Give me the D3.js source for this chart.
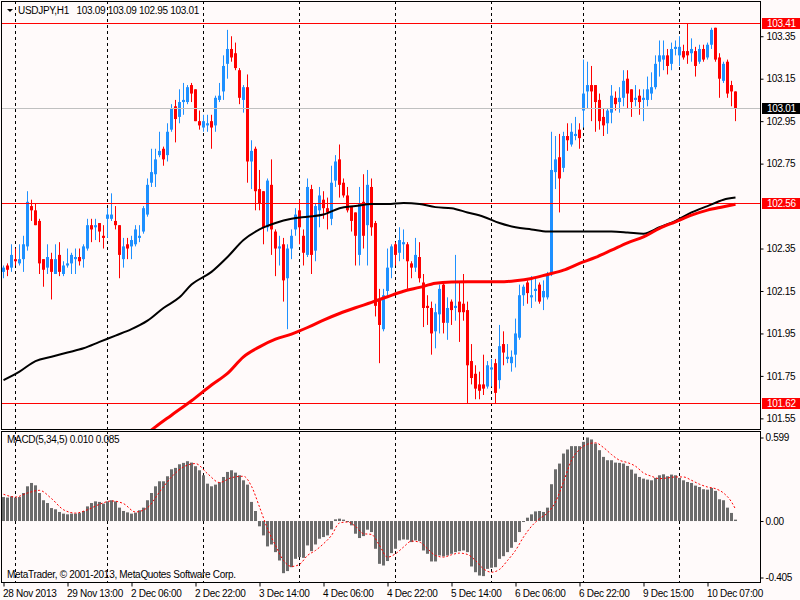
<!DOCTYPE html>
<html><head><meta charset="utf-8">
<script src="https://cdn.jsdelivr.net/npm/d3@7"></script>
<style>
html,body{margin:0;padding:0;background:#FFFAFA;}
svg{display:block;}
text{font-family:"Liberation Sans",Arial,sans-serif;font-size:10px;letter-spacing:-0.3px;fill:#000;}
</style></head>
<body>
<svg id="c" width="800" height="600"></svg>
<script>
// ---------- DATA ----------
const symbolTitle = "USDJPY,H1\u00A0\u00A0\u00A0103.09 103.09 102.95 103.01";
const macdTitle = "MACD(5,34,5) 0.010 0.085";
const copyright = "MetaTrader, \u00A9 2001-2013, MetaQuotes Software Corp.";

const open = [102.24,102.27,102.26,102.30,102.28,102.30,102.36,102.55,102.53,102.48,102.30,102.26,102.30,102.23,102.32,102.23,102.27,102.28,102.30,102.31,
102.30,102.35,102.46,102.45,102.47,102.41,102.49,102.49,102.48,102.46,102.30,102.37,102.36,102.37,102.40,102.43,102.51,102.66,102.70,102.79,
102.82,102.79,102.91,103.02,102.97,103.04,103.04,103.12,103.10,102.95,102.92,102.93,102.95,102.93,103.05,103.09,103.22,103.29,103.27,103.19,
103.05,103.11,102.76,102.82,102.63,102.62,102.45,102.65,102.43,102.35,102.37,102.21,102.35,102.44,102.53,102.41,102.32,102.63,102.34,102.53,
102.58,102.54,102.49,102.67,102.77,102.66,102.60,102.55,102.52,102.32,102.57,102.46,102.64,102.47,102.11,101.97,102.15,102.26,102.37,102.33,
102.37,102.37,102.28,102.26,102.31,102.19,102.08,102.07,101.96,102.04,102.18,102.00,102.10,102.07,102.10,102.09,102.06,101.82,101.76,101.71,
101.71,101.70,101.78,101.81,101.73,101.90,101.83,101.81,101.85,101.93,102.13,102.19,102.12,102.15,102.18,102.12,102.12,102.23,102.71,102.78,
102.73,102.88,102.84,102.88,102.91,103.00,103.09,103.12,103.12,103.05,102.97,102.94,102.99,103.06,103.04,103.06,103.15,103.10,103.05,103.07,
103.05,103.05,103.08,103.11,103.23,103.24,103.26,103.22,103.29,103.26,103.28,103.28,103.27,103.28,103.23,103.29,103.25,103.31,103.39,103.25,
103.14,103.23,103.12,103.09];
const high = [102.27,102.28,102.37,102.35,102.37,102.41,102.62,102.58,102.56,102.49,102.30,102.37,102.33,102.37,102.38,102.29,102.35,102.33,102.35,102.35,
102.37,102.49,102.49,102.49,102.47,102.46,102.54,102.61,102.55,102.46,102.40,102.40,102.41,102.46,102.46,102.55,102.68,102.82,102.82,102.90,
102.83,102.94,103.03,103.05,103.10,103.13,103.12,103.13,103.10,103.00,102.98,102.98,102.98,103.07,103.13,103.26,103.38,103.35,103.32,103.20,
103.12,103.17,102.86,102.83,102.72,102.62,102.68,102.77,102.44,102.41,102.40,102.37,102.44,102.54,102.58,102.44,102.68,102.65,102.56,102.64,
102.62,102.59,102.74,102.79,102.84,102.68,102.64,102.55,102.52,102.64,102.70,102.72,102.68,102.48,102.16,102.16,102.35,102.37,102.38,102.45,
102.44,102.38,102.29,102.40,102.38,102.23,102.13,102.10,102.09,102.18,102.19,102.12,102.11,102.32,102.19,102.23,102.10,101.90,101.80,101.77,
101.85,101.82,101.83,101.83,101.99,101.96,101.90,101.87,102.02,102.18,102.18,102.20,102.22,102.21,102.19,102.20,102.24,102.90,102.88,102.89,
102.90,102.94,102.94,102.97,102.94,103.24,103.23,103.21,103.12,103.08,103.01,103.01,103.12,103.09,103.11,103.19,103.19,103.10,103.12,103.10,
103.10,103.16,103.18,103.26,103.33,103.33,103.29,103.32,103.33,103.35,103.31,103.41,103.34,103.30,103.31,103.31,103.32,103.39,103.39,103.27,
103.23,103.24,103.14,103.09];
const low = [102.21,102.22,102.24,102.27,102.27,102.24,102.34,102.48,102.46,102.23,102.17,102.23,102.11,102.23,102.22,102.22,102.26,102.23,102.23,102.27,
102.26,102.34,102.38,102.39,102.38,102.35,102.40,102.48,102.44,102.21,102.26,102.30,102.30,102.36,102.38,102.42,102.50,102.64,102.64,102.78,
102.74,102.76,102.90,102.85,102.94,102.98,103.03,103.04,102.95,102.91,102.90,102.90,102.82,102.90,103.04,103.05,103.15,103.23,103.19,103.03,
102.99,102.66,102.63,102.53,102.53,102.37,102.43,102.32,102.22,102.27,102.10,101.97,102.30,102.41,102.37,102.27,102.31,102.23,102.29,102.45,
102.49,102.44,102.46,102.64,102.59,102.59,102.52,102.43,102.27,102.27,102.35,102.27,102.41,102.03,101.81,101.96,102.13,102.21,102.27,102.29,
102.30,102.16,102.21,102.24,102.19,101.98,101.99,101.85,101.88,101.95,101.95,101.92,101.99,102.01,101.91,102.01,101.62,101.71,101.64,101.64,
101.66,101.69,101.70,101.62,101.69,101.80,101.81,101.77,101.79,101.92,102.08,102.09,102.07,102.10,102.09,102.06,102.11,102.22,102.63,102.52,
102.71,102.81,102.83,102.86,102.82,102.92,103.01,102.95,102.90,102.91,102.88,102.89,102.94,103.00,102.99,103.02,103.01,102.97,103.02,102.98,
102.95,103.02,103.05,103.10,103.16,103.19,103.17,103.19,103.26,103.21,103.24,103.22,103.23,103.16,103.22,103.23,103.24,103.29,103.23,103.06,
103.13,103.06,103.02,102.95];
const close = [102.26,102.25,102.32,102.29,102.30,102.37,102.57,102.53,102.46,102.28,102.25,102.31,102.24,102.30,102.24,102.27,102.28,102.32,102.31,102.29,
102.36,102.46,102.44,102.46,102.43,102.40,102.51,102.51,102.46,102.32,102.36,102.35,102.39,102.44,102.41,102.54,102.65,102.71,102.77,102.81,
102.77,102.90,103.01,102.96,103.04,103.05,103.11,103.08,102.95,102.93,102.95,102.94,102.92,103.06,103.07,103.21,103.29,103.25,103.20,103.06,
103.11,102.76,102.81,102.62,102.56,102.45,102.67,102.44,102.35,102.36,102.20,102.35,102.41,102.51,102.45,102.33,102.64,102.32,102.55,102.60,
102.54,102.52,102.66,102.76,102.65,102.60,102.53,102.48,102.41,102.56,102.41,102.65,102.45,102.08,101.99,102.13,102.26,102.36,102.32,102.39,
102.38,102.29,102.26,102.32,102.21,102.07,102.07,101.95,102.05,102.16,102.00,102.07,102.06,102.08,102.05,102.05,101.80,101.74,101.69,101.68,
101.69,101.80,101.79,101.67,101.89,101.86,101.84,101.84,101.95,102.13,102.17,102.14,102.13,102.16,102.10,102.15,102.23,102.72,102.77,102.68,
102.88,102.86,102.90,102.89,102.87,103.08,103.12,103.09,103.04,102.95,102.93,103.00,103.07,103.03,103.06,103.14,103.08,103.04,103.06,103.04,
103.06,103.10,103.11,103.22,103.26,103.26,103.21,103.29,103.30,103.30,103.25,103.26,103.29,103.21,103.29,103.24,103.31,103.38,103.24,103.15,
103.22,103.08,103.09,103.01];

// moving averages: [bar index, value]
const maBlack = [[0,101.73],[4,101.77],[8,101.82],[12,101.84],[16,101.86],[20,101.88],[24,101.91],[28,101.94],[32,101.97],[36,102.01],[40,102.07],[44,102.12],[47,102.18],
[52,102.24],[56,102.31],[60,102.39],[64,102.44],[68,102.47],[72,102.49],[76,102.50],[80,102.51],[84,102.54],[88,102.55],[92,102.56],[96,102.56],[100,102.565],
[104,102.56],[108,102.545],[112,102.54],[116,102.52],[120,102.50],[124,102.47],[128,102.45],[132,102.44],[136,102.43],[140,102.43],[144,102.43],[148,102.43],
[152,102.43],[156,102.426],[160,102.42],[164,102.45],[168,102.48],[172,102.52],[176,102.55],[180,102.58],[183,102.59]];
const maRed = [[34,101.45],[38,101.51],[42,101.565],[47,101.633],[52,101.707],[56,101.762],[60,101.84],[64,101.887],[68,101.923],[72,101.947],[76,101.978],
[80,102.013],[84,102.044],[88,102.071],[92,102.096],[96,102.123],[100,102.149],[104,102.167],[108,102.186],[112,102.192],[116,102.193],[120,102.193],
[124,102.193],[128,102.198],[132,102.209],[136,102.228],[140,102.248],[144,102.28],[148,102.308],[152,102.342],[156,102.377],[160,102.405],[164,102.445],
[168,102.476],[172,102.507],[176,102.531],[180,102.547],[183,102.559]];

const macdHist = [0.172,0.168,0.177,0.168,0.172,0.201,0.249,0.273,0.256,0.201,0.149,0.129,0.093,0.084,0.065,0.053,0.048,0.053,0.053,0.057,
0.072,0.105,0.129,0.141,0.137,0.125,0.141,0.149,0.141,0.096,0.072,0.062,0.053,0.060,0.077,0.096,0.149,0.201,0.249,0.285,
0.285,0.321,0.371,0.381,0.407,0.417,0.429,0.419,0.393,0.364,0.328,0.268,0.249,0.261,0.278,0.316,0.352,0.364,0.347,0.328,
0.292,0.261,0.137,0.072,-0.038,-0.103,-0.182,-0.168,-0.223,-0.283,-0.374,-0.359,-0.331,-0.271,-0.259,-0.264,-0.175,-0.216,-0.168,-0.127,
-0.115,-0.103,-0.060,0.012,0.017,0.010,-0.007,-0.031,-0.091,-0.122,-0.108,-0.062,-0.079,-0.199,-0.307,-0.319,-0.287,-0.230,-0.199,-0.139,
-0.132,-0.134,-0.151,-0.139,-0.144,-0.211,-0.235,-0.290,-0.290,-0.247,-0.254,-0.247,-0.235,-0.223,-0.216,-0.211,-0.223,-0.326,-0.367,-0.391,
-0.395,-0.343,-0.335,-0.331,-0.271,-0.252,-0.223,-0.192,-0.151,-0.079,-0.007,0.024,0.048,0.069,0.072,0.065,0.096,0.264,0.371,0.412,
0.484,0.513,0.537,0.537,0.537,0.568,0.599,0.585,0.556,0.508,0.460,0.436,0.436,0.419,0.417,0.412,0.395,0.369,0.340,0.316,
0.304,0.297,0.292,0.309,0.328,0.335,0.321,0.333,0.328,0.309,0.292,0.280,0.273,0.254,0.244,0.228,0.225,0.237,0.216,0.156,
0.149,0.096,0.058,0.010];
const macdSignal = [[0,0.192],[3,0.172],[6,0.201],[9,0.220],[12,0.161],[15,0.081],[18,0.057],[21,0.081],[24,0.120],[27,0.144],[30,0.125],[33,0.065],
[36,0.096],[39,0.208],[42,0.316],[45,0.388],[48,0.412],[51,0.340],[54,0.276],[57,0.311],[60,0.321],[62,0.249],[64,0.101],[66,-0.055],[68,-0.175],
[70,-0.283],[72,-0.326],[74,-0.311],[76,-0.247],[78,-0.211],[80,-0.163],[82,-0.103],[84,-0.014],[86,-0.007],[88,-0.038],[90,-0.091],[92,-0.096],
[94,-0.175],[96,-0.259],[98,-0.235],[100,-0.187],[102,-0.144],[104,-0.151],[106,-0.199],[108,-0.247],[110,-0.259],[112,-0.242],[114,-0.230],
[116,-0.240],[118,-0.283],[120,-0.343],[122,-0.367],[124,-0.347],[126,-0.283],[128,-0.211],[130,-0.115],[132,-0.038],[134,0.017],[136,0.058],
[138,0.137],[140,0.280],[142,0.436],[144,0.513],[146,0.551],[148,0.561],[150,0.527],[152,0.477],[154,0.436],[156,0.419],[158,0.393],[160,0.345],
[162,0.321],[164,0.304],[166,0.309],[168,0.316],[170,0.316],[172,0.292],[174,0.264],[176,0.244],[178,0.232],[180,0.201],[182,0.137],[183,0.085]];

const dayStartIdx = [3,26,50,74,98,122,145,169];
const timeTickIdx = [0,16,32,48,64,80,96,112,128,144,160,176];
const timeTickLabels = ["28 Nov 2013","29 Nov 13:00","2 Dec 06:00","2 Dec 22:00","3 Dec 14:00","4 Dec 06:00","4 Dec 22:00","5 Dec 14:00","6 Dec 06:00","6 Dec 22:00","9 Dec 15:00","10 Dec 07:00"];
const priceTicks = [103.35,103.15,102.95,102.75,102.35,102.15,101.95,101.75,101.55];
const hLinesRed = [103.41,102.56,101.62];
const bidPrice = 103.01;
const macdTicks = [0.599,0,-0.405];
const macdTickLabels = ["0.599","0.00","-0.405"];

// ---------- LAYOUT ----------
const svg = d3.select("#c");
const L = 1, R = 760, mainTop = 1, mainBot = 429, macdTop = 431, macdBot = 582;
const bull = "#1E90FF", bear = "#FF0000";

const x = d3.scaleLinear().domain([0,183]).range([3.5,735.5]);
const y = d3.scaleLinear().domain([101.62,103.41]).range([403.5,23.5]);
const ym = d3.scaleLinear().domain([-0.405,0.599]).range([577.5,437.5]);

svg.append("rect").attr("width",800).attr("height",600).attr("fill","#FFFAFA");

const defs = svg.append("defs");
defs.append("clipPath").attr("id","cm").append("rect").attr("x",L+1).attr("y",mainTop+1).attr("width",R-L-1).attr("height",mainBot-mainTop-1);
defs.append("clipPath").attr("id","cd").append("rect").attr("x",L+1).attr("y",macdTop+1).attr("width",R-L-1).attr("height",macdBot-macdTop-1);

// grid verticals
const grid = svg.append("g");
dayStartIdx.forEach(i=>{
  const gx = Math.floor(x(i))+0.5;
  [[mainTop,mainBot],[macdTop,macdBot]].forEach(([a,b])=>{
    grid.append("line").attr("x1",gx).attr("x2",gx).attr("y1",a).attr("y2",b)
      .attr("stroke","#000").attr("stroke-width",1).attr("stroke-dasharray","3,3");
  });
});

// main panel contents
const gm = svg.append("g").attr("clip-path","url(#cm)");

// candles
const cg = gm.append("g");
open.forEach((o,i)=>{
  const c = close[i], h = high[i], l = low[i];
  const col = c >= o ? bull : bear;
  const cx = Math.floor(x(i));
  cg.append("line").attr("x1",cx+0.5).attr("x2",cx+0.5).attr("y1",y(h)).attr("y2",y(l))
    .attr("stroke",col).attr("stroke-width",1);
  const top = y(Math.max(o,c)), bot = y(Math.min(o,c));
  cg.append("rect").attr("x",cx-1).attr("width",3).attr("y",top).attr("height",Math.max(1,bot-top)).attr("fill",col);
});

// horizontal lines
gm.append("line").attr("x1",L).attr("x2",R).attr("y1",Math.round(y(bidPrice))+0.5).attr("y2",Math.round(y(bidPrice))+0.5)
  .attr("stroke","#C0C0C0").attr("stroke-width",1);
hLinesRed.forEach(p=>{
  const yy = Math.floor(y(p))+0.5;
  gm.append("line").attr("x1",L).attr("x2",R).attr("y1",yy).attr("y2",yy).attr("stroke","#FF0000").attr("stroke-width",1);
});

// moving averages
const lineGen = d3.line().x(d=>x(d[0])).curve(d3.curveMonotoneX);
gm.append("path").datum(maBlack).attr("d",lineGen.y(d=>y(d[1]))).attr("fill","none").attr("stroke","#000").attr("stroke-width",2);
gm.append("path").datum(maRed).attr("d",lineGen.y(d=>y(d[1]))).attr("fill","none").attr("stroke","#FF0000").attr("stroke-width",3);

// MACD
const gd = svg.append("g").attr("clip-path","url(#cd)");
const z0 = ym(0);
macdHist.forEach((v,i)=>{
  const cx = Math.floor(x(i));
  const yv = ym(v);
  gd.append("rect").attr("x",cx-1).attr("width",3).attr("y",Math.min(yv,z0)).attr("height",Math.max(1,Math.abs(yv-z0))).attr("fill","#6B6B6B");
});
gd.append("path").datum(macdSignal).attr("d",d3.line().x(d=>x(d[0])).y(d=>ym(d[1])).curve(d3.curveMonotoneX))
  .attr("fill","none").attr("stroke","#FF0000").attr("stroke-width",1).attr("stroke-dasharray","2,2");

// frames
svg.append("rect").attr("x",L+0.5).attr("y",mainTop+0.5).attr("width",R-L).attr("height",mainBot-mainTop).attr("fill","none").attr("stroke","#000");
svg.append("rect").attr("x",L+0.5).attr("y",macdTop+0.5).attr("width",R-L).attr("height",macdBot-macdTop).attr("fill","none").attr("stroke","#000");

// price axis
const pa = svg.append("g").attr("transform",`translate(${R+0.5},0)`)
  .call(d3.axisRight(y).tickValues(priceTicks).tickSize(3).tickPadding(3).tickFormat(d3.format(".2f")));
pa.select(".domain").remove();
pa.selectAll("line").attr("stroke","#000");
pa.selectAll("text").attr("font-size",null).attr("font-family",null);
pa.attr("font-size",null).attr("font-family",null);

// colored price labels
function priceLabel(p, bg){
  const yy = Math.floor(y(p));
  svg.append("rect").attr("x",R+2).attr("y",yy-5).attr("width",800-R-2).attr("height",11).attr("fill",bg);
  svg.append("text").attr("x",R+7).attr("y",yy).attr("dy","0.35em").style("fill","#fff").text(d3.format(".2f")(p));
}
hLinesRed.forEach(p=>priceLabel(p,"#FF0000"));
priceLabel(bidPrice,"#000");

// MACD axis
const ma = svg.append("g").attr("transform",`translate(${R+0.5},0)`)
  .call(d3.axisRight(ym).tickValues(macdTicks).tickSize(3).tickPadding(2).tickFormat((d,i)=>macdTickLabels[i]));
ma.select(".domain").remove();
ma.selectAll("text").attr("font-size",null).attr("font-family",null);
ma.attr("font-size",null).attr("font-family",null);

// time axis
const ta = svg.append("g").attr("transform",`translate(0,${macdBot+0.5})`)
  .call(d3.axisBottom(x).tickValues(timeTickIdx).tickSize(4).tickPadding(3).tickFormat((d,i)=>timeTickLabels[i]));
ta.select(".domain").remove();
ta.selectAll("text").attr("text-anchor","start").attr("font-size",null).attr("font-family",null).attr("dx","-1");
ta.attr("font-size",null).attr("font-family",null);

// titles
svg.append("path").attr("d","M7,9 L13,9 L10,12 Z").attr("fill","#000");
svg.append("text").attr("x",18).attr("y",14).text(symbolTitle);
svg.append("text").attr("x",7).attr("y",443).text(macdTitle);
svg.append("text").attr("x",7).attr("y",578).text(copyright);
</script>
</body></html>
